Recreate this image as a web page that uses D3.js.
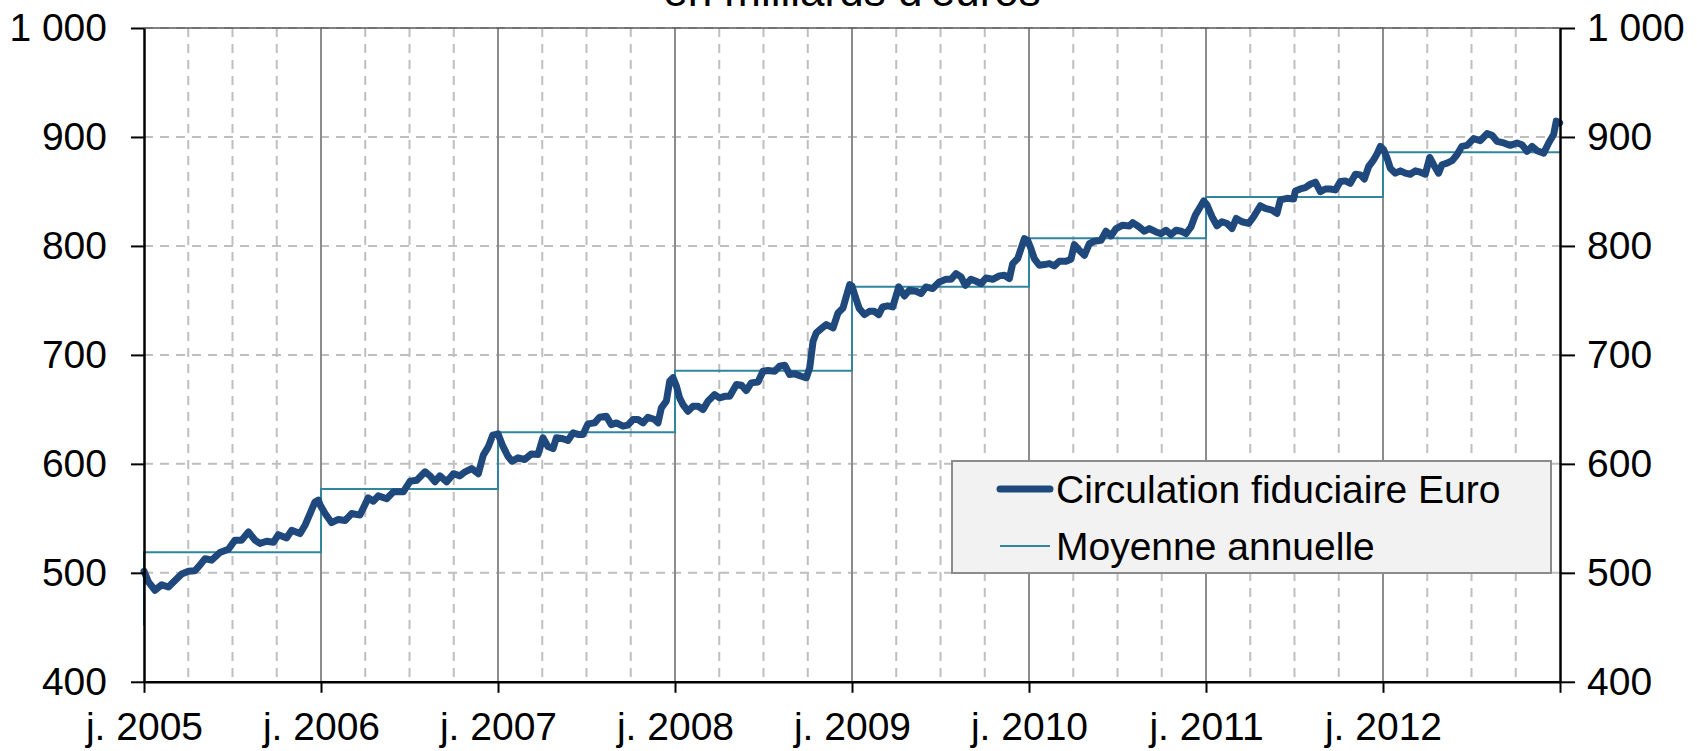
<!DOCTYPE html>
<html><head><meta charset="utf-8">
<script src="https://cdn.jsdelivr.net/npm/d3@7"></script>
<style>
html,body{margin:0;padding:0;background:#fff;}
svg{display:block;font-family:"Liberation Sans",Arial,sans-serif;}
</style></head>
<body>
<svg id="chart" width="1697" height="751"></svg>
<script>
// ---- data ----
const titleText = "en milliards d'euros";
const seriesName = "Circulation fiduciaire Euro";
const meanName = "Moyenne annuelle";
const yearTicks = [2005, 2006, 2007, 2008, 2009, 2010, 2011, 2012, 2013];
const xTickLabels = ["j. 2005", "j. 2006", "j. 2007", "j. 2008", "j. 2009", "j. 2010", "j. 2011", "j. 2012", ""];
const yTicks = [400, 500, 600, 700, 800, 900, 1000];
const yTickLabels = ["400", "500", "600", "700", "800", "900", "1 000"];
const meanYears = [2005, 2006, 2007, 2008, 2009, 2010, 2011, 2012];
const meanPrevious = 451.6;
const meanValues = [519, 577, 629, 685.5, 762.5, 807, 845, 886];
const dates = [
 2005.000,2005.025,2005.062,2005.100,2005.138,2005.175,2005.213,2005.251,2005.288,2005.316,
 2005.345,2005.382,2005.429,2005.477,2005.514,2005.552,2005.590,2005.627,2005.655,2005.693,
 2005.731,2005.759,2005.806,2005.834,2005.881,2005.910,2005.938,2005.966,2005.985,2005.996,
 2006.023,2006.060,2006.098,2006.136,2006.173,2006.220,2006.267,2006.296,2006.324,2006.371,
 2006.409,2006.465,2006.503,2006.541,2006.588,2006.616,2006.644,2006.672,2006.710,2006.748,
 2006.785,2006.814,2006.851,2006.889,2006.917,2006.945,2006.970,2006.989,
 2007.000,2007.028,2007.056,2007.079,2007.113,2007.151,2007.188,2007.226,2007.254,2007.282,
 2007.311,2007.330,2007.367,2007.395,2007.424,2007.452,2007.480,2007.508,2007.546,2007.574,
 2007.612,2007.640,2007.669,2007.706,2007.734,2007.763,2007.791,2007.819,2007.847,2007.885,
 2007.904,2007.923,2007.951,2007.970,2007.989,
 2008.008,2008.026,2008.045,2008.073,2008.102,2008.130,2008.158,2008.186,2008.224,2008.252,
 2008.281,2008.309,2008.347,2008.375,2008.403,2008.431,2008.469,2008.497,2008.525,2008.563,
 2008.591,2008.620,2008.648,2008.676,2008.714,2008.742,2008.761,2008.780,2008.798,2008.827,
 2008.855,2008.893,2008.921,2008.949,2008.968,2008.987,
 2009.000,2009.019,2009.041,2009.070,2009.098,2009.126,2009.151,2009.173,2009.202,2009.230,
 2009.264,2009.296,2009.324,2009.362,2009.390,2009.418,2009.456,2009.493,2009.531,2009.559,
 2009.588,2009.616,2009.640,2009.672,2009.701,2009.729,2009.757,2009.795,2009.832,2009.861,
 2009.889,2009.908,2009.936,2009.955,2009.974,2009.992,
 2010.011,2010.030,2010.058,2010.087,2010.115,2010.143,2010.171,2010.209,2010.237,2010.256,
 2010.284,2010.313,2010.341,2010.369,2010.407,2010.435,2010.463,2010.492,2010.529,2010.567,
 2010.586,2010.623,2010.652,2010.680,2010.718,2010.746,2010.774,2010.802,2010.831,2010.859,
 2010.887,2010.915,2010.940,2010.968,2010.987,
 2011.006,2011.034,2011.062,2011.090,2011.119,2011.147,2011.171,2011.203,2011.241,2011.269,
 2011.307,2011.335,2011.373,2011.401,2011.420,2011.458,2011.495,2011.505,2011.533,2011.561,
 2011.589,2011.618,2011.646,2011.674,2011.702,2011.731,2011.759,2011.787,2011.815,2011.844,
 2011.872,2011.895,2011.919,2011.944,2011.966,2011.985,
 2012.004,2012.023,2012.041,2012.070,2012.098,2012.126,2012.154,2012.183,2012.211,2012.239,
 2012.264,2012.286,2012.314,2012.333,2012.362,2012.390,2012.418,2012.446,2012.475,2012.512,
 2012.550,2012.588,2012.616,2012.644,2012.682,2012.719,2012.757,2012.785,2012.814,2012.842,
 2012.870,2012.908,2012.936,2012.964,2012.979,2012.998
];
const values = [
 501.5,491.7,484,489,487,493,499,501.5,502,507,
 513,511.6,518.7,521.7,530,530,537.6,530,527,529,
 528,535,532,539,536,543.7,554.4,565,566.7,562,
 554.4,546,549,548,554.4,553,568.8,565.7,570.6,568,
 574.3,574.3,584,585,592.7,589,583.5,589,583.5,591,
 589,592.7,595.7,591,608,615.6,626.3,627,
 627.5,616,607,602.4,605.5,604,609,608.6,623.9,616,
 614,623.9,623,621.4,628.4,627,627,636.7,637.6,642.8,
 643.7,636,637.6,634.6,635.5,640.7,640.7,637.6,642.8,640.7,
 637.6,651.4,657.5,675.8,679,
 671.3,660.6,654.4,648.3,652.9,652.9,649.8,657.5,663.6,660.6,
 662,662,672.8,672.2,667.3,674.3,675.2,685,685.6,685,
 689.6,690.5,682,682.6,680.4,679,688,712.5,720.2,724.2,
 727.8,724.8,738.5,743,753.8,764.5,
 763.3,753.2,742.5,737,740,740,737,744,745,744,
 762.4,754.1,759.3,758.4,756.3,762.4,760.9,767,769.4,769.4,
 774.6,771.6,763.9,769.4,767.6,765.4,770.6,769.4,772.5,773.1,
 770,783.8,788.4,797.6,806.7,805.2,
 797.6,788.4,782.3,782.9,783.8,781.7,785.9,785.9,787.8,801.2,
 796,791.4,802.1,804.3,805.2,813.5,809.2,815.9,819,818.3,
 821.4,817.4,813.5,815.9,812.8,811.3,814.4,810.4,814.4,813.5,
 811.3,817.4,828.3,836,841.2,
 837.5,826.8,818.5,822.2,820.6,816,825.2,822.2,820.6,826.8,
 836.9,834.5,832.9,829.8,842.2,843.7,843.1,850.5,852.3,853.5,
 856.6,858.5,849.8,852.3,852.3,851.4,859.1,859.7,857.5,865.8,
 865.2,861.5,872.9,878.2,884.3,891.4,
 888.3,880.6,871.4,866.8,868.9,866.8,865.8,868.9,867.7,865.8,
 881.2,874.5,866.8,874.5,876,878.2,883.7,891.4,892.3,898.5,
 896.6,903.1,901.5,896,894.5,892.3,894.5,892.9,886.8,891.4,
 887.4,885.2,894.5,902.2,914.5,912.9
];

// ---- layout ----
const plotL = 144, plotR = 1560, plotT = 28, plotB = 681.8;
const FONT = 39;
const darkBlue = "#1f497d", teal = "#31859c";

const svg = d3.select("#chart");
const x = d3.scaleLinear().domain([2005, 2013]).range([plotL, plotR]);
const y = d3.scaleLinear().domain([400, 1000]).range([plotB, plotT]);

// title (partly cut off at top, as in the original)
svg.append("text").attr("x", (plotL + plotR) / 2).attr("y", 6)
  .attr("text-anchor", "middle").attr("font-size", 44).attr("fill", "#000")
  .text(titleText);

const grid = svg.append("g");
const quarters = [];
for (let yr = 2005; yr < 2013; yr++) [0.25, 0.5, 0.75].forEach(q => quarters.push(yr + q));
grid.selectAll("line.q").data(quarters).join("line")
  .attr("x1", d => x(d)).attr("x2", d => x(d)).attr("y1", plotT).attr("y2", plotB)
  .attr("stroke", "#bfbfbf").attr("stroke-width", 2).attr("stroke-dasharray", "9,7");
grid.selectAll("line.h").data(yTicks.slice(1)).join("line")
  .attr("x1", plotL).attr("x2", plotR).attr("y1", d => y(d)).attr("y2", d => y(d))
  .attr("stroke", "#bfbfbf").attr("stroke-width", 2).attr("stroke-dasharray", "9,7");
grid.selectAll("line.yr").data(yearTicks.slice(1, -1)).join("line")
  .attr("x1", d => x(d)).attr("x2", d => x(d)).attr("y1", plotT).attr("y2", plotB)
  .attr("stroke", "#8c8c8c").attr("stroke-width", 2);
grid.append("line").attr("x1", plotL).attr("x2", plotR).attr("y1", y(1000)).attr("y2", y(1000))
  .attr("stroke", "#595959").attr("stroke-width", 1.5);

// mean step line
const meanPts = [[meanYears[0], meanPrevious]];
meanYears.forEach((yr, i) => meanPts.push([yr, meanValues[i]]));
meanPts.push([2013, meanValues[meanValues.length - 1]]);
svg.append("path").datum(meanPts)
  .attr("d", d3.line().x(d => x(d[0])).y(d => y(d[1])).curve(d3.curveStepAfter))
  .attr("fill", "none").attr("stroke", teal).attr("stroke-width", 2);

// main series
const series = dates.map((d, i) => [d, values[i]]);
svg.append("path").datum(series)
  .attr("d", d3.line().x(d => x(d[0])).y(d => y(d[1])))
  .attr("fill", "none").attr("stroke", darkBlue).attr("stroke-width", 7)
  .attr("stroke-linejoin", "round").attr("stroke-linecap", "round");

// axes
function styleAxis(g) {
  g.select(".domain").attr("stroke", "#000").attr("stroke-width", 2.5);
  g.selectAll(".tick line").attr("stroke", "#000").attr("stroke-width", 2);
  g.selectAll(".tick text").attr("font-size", FONT).attr("fill", "#000")
    .attr("font-family", "'Liberation Sans', Arial, sans-serif");
}
svg.append("g").attr("transform", `translate(${plotL},0)`)
  .call(d3.axisLeft(y).tickValues(yTicks).tickSize(13).tickSizeOuter(0).tickPadding(24)
    .tickFormat((d, i) => yTickLabels[i]))
  .call(styleAxis);
svg.append("g").attr("transform", `translate(${plotR},0)`)
  .call(d3.axisRight(y).tickValues(yTicks).tickSize(15).tickSizeOuter(0).tickPadding(12)
    .tickFormat((d, i) => yTickLabels[i]))
  .call(styleAxis);
svg.append("g").attr("transform", `translate(0,${plotB})`)
  .call(d3.axisBottom(x).tickValues(yearTicks).tickSize(11).tickSizeOuter(0).tickPadding(20)
    .tickFormat((d, i) => xTickLabels[i]))
  .call(styleAxis);

// legend
const lg = svg.append("g");
lg.append("rect").attr("x", 952).attr("y", 461).attr("width", 599).attr("height", 112)
  .attr("fill", "#f2f2f2").attr("stroke", "#8c8c8c").attr("stroke-width", 2);
lg.append("line").attr("x1", 1000).attr("x2", 1050).attr("y1", 489).attr("y2", 489)
  .attr("stroke", darkBlue).attr("stroke-width", 7).attr("stroke-linecap", "round");
lg.append("text").attr("x", 1056).attr("y", 503).attr("font-size", FONT).attr("fill", "#000").text(seriesName);
lg.append("line").attr("x1", 1000).attr("x2", 1050).attr("y1", 546).attr("y2", 546)
  .attr("stroke", teal).attr("stroke-width", 2);
lg.append("text").attr("x", 1056).attr("y", 560).attr("font-size", FONT).attr("fill", "#000").text(meanName);
</script>
</body></html>
